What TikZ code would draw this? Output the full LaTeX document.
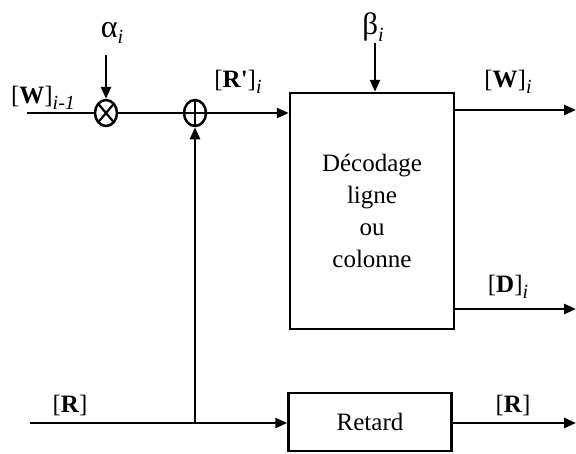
\documentclass[tikz,border=0pt]{standalone}
\usepackage{fontspec}
\setmainfont{Liberation Serif}
\usetikzlibrary{arrows.meta,shapes.geometric}
\newcommand{\lsub}[1]{\raisebox{-0.26em}{\fontsize{20}{20}\selectfont\itshape #1}}
\begin{document}
\begin{tikzpicture}[x=1pt,y=-1pt,line width=2.5pt,
  font=\fontsize{25}{32}\selectfont,
  arr/.style={-{Triangle[length=12pt,width=10pt]}},
  lbl/.style={inner sep=0pt},
  opnode/.style={ellipse,draw,minimum width=22pt,minimum height=26pt,inner sep=0pt},
  blockbox/.style={draw,rectangle,inner sep=0pt,align=center}]
\useasboundingbox (0,0) rectangle (576,453);
% operators
\node[opnode,path picture={\draw[line width=2.2pt] (path picture bounding box.north west) -- (path picture bounding box.south east)
  (path picture bounding box.north east) -- (path picture bounding box.south west);}] (mult) at (106,113) {};
\node[opnode,path picture={\draw[line width=2.2pt] (path picture bounding box.north) -- (path picture bounding box.south)
  (path picture bounding box.west) -- (path picture bounding box.east);}] (plus) at (195,113) {};
% blocks
\node[blockbox,minimum width=164pt,minimum height=236pt] (dec) at (372,211) {Décodage\\ligne\\ou\\colonne};
\node[blockbox,minimum width=163pt,minimum height=58pt] (ret) at (370,422) {Retard};
% coordinates
\coordinate (win) at (27,113);
\coordinate (atop) at (106,55);
\coordinate (btop) at (375,43);
\coordinate (rin) at (30,423);
\coordinate (br) at (195,423);
\coordinate (wout) at (576,110);
\coordinate (dout) at (576,309);
\coordinate (rout) at (576,423);
% connectors
\draw (win) -- (mult);
\draw[arr] (atop) -- (mult.north);
\draw (mult) -- (plus);
\draw[arr] (plus.east) -- (dec.west |- plus);
\draw[arr] (btop) -- (btop |- dec.north);
\draw[arr] (dec.east |- wout) -- (wout);
\draw[arr] (dec.east |- dout) -- (dout);
\draw[arr] (rin) -- (ret.west |- rin);
\draw[arr] (ret.east |- rout) -- (rout);
\draw[arr] (br) -- (plus.south);
% labels
\node[lbl] (la) at (112,33) {{\fontsize{32}{32}\selectfont α}\lsub{i}};
\node[lbl] (lb) at (373,27) {{\fontsize{31}{31}\selectfont β}\lsub{i}};
\node[lbl] (lw1) at (43,98) {[\textbf{W}]\lsub{i-1}};
\node[lbl] (lrp) at (238,82) {[\textbf{R\textquotesingle}]\lsub{i}};
\node[lbl] (lw) at (508,82) {[\textbf{W}]\lsub{i}};
\node[lbl] (ld) at (508,287) {[\textbf{D}]\lsub{i}};
\node[lbl] (lr1) at (70,405) {[\textbf{R}]};
\node[lbl] (lr2) at (513,405) {[\textbf{R}]};
\end{tikzpicture}
\end{document}
